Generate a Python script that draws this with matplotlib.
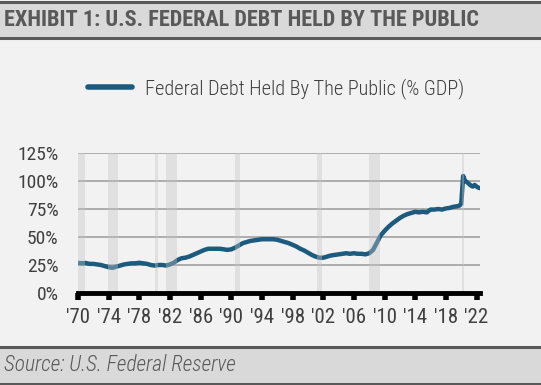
import matplotlib.pyplot as plt
import matplotlib.patches as mpatches
import numpy as np

# Federal debt held by the public, % of GDP
dates = [1970.0, 1970.5, 1971.0, 1971.5, 1972.0, 1972.5, 1973.0, 1973.5, 1974.0, 1974.5,
         1975.0, 1975.5, 1976.0, 1976.5, 1977.0, 1977.5, 1978.0, 1978.5, 1979.0, 1979.5,
         1980.0, 1980.5, 1981.0, 1981.5, 1982.0, 1982.5, 1983.0, 1983.5, 1984.0, 1984.5,
         1985.0, 1985.5, 1986.0, 1986.5, 1987.0, 1987.5, 1988.0, 1988.5, 1989.0, 1989.5,
         1990.0, 1990.5, 1991.0, 1991.5, 1992.0, 1992.5, 1993.0, 1993.5, 1994.0, 1994.5,
         1995.0, 1995.5, 1996.0, 1996.5, 1997.0, 1997.5, 1998.0, 1998.5, 1999.0, 1999.5,
         2000.0, 2000.5, 2001.0, 2001.5, 2002.0, 2002.5, 2003.0, 2003.5, 2004.0, 2004.5,
         2005.0, 2005.5, 2006.0, 2006.5, 2007.0, 2007.5, 2008.0, 2008.5, 2009.0, 2009.5,
         2010.0, 2010.5, 2011.0, 2011.5, 2012.0, 2012.5, 2013.0, 2013.5, 2014.0, 2014.5,
         2015.0, 2015.5, 2016.0, 2016.5, 2017.0, 2017.5, 2018.0, 2018.5, 2019.0, 2019.5,
         2019.75, 2020.0, 2020.25, 2020.5, 2020.75, 2021.0, 2021.25, 2021.5, 2021.75, 2022.0,
         2022.25, 2022.5]
debt = [27, 26.5, 26.8, 26, 26, 25.5, 25, 24, 23, 22.5,
        23.5, 24.5, 25.5, 26, 26.5, 26.5, 27, 26.5, 26, 25,
        24.5, 25, 25, 24.5, 25.5, 27, 29.5, 31, 31.5, 32.5,
        34, 35.5, 37, 38.5, 39.5, 39.5, 39.5, 39.5, 39, 38.5,
        39, 40.5, 42.5, 44.5, 45.5, 46.5, 47, 47.5, 48, 48,
        48, 48, 47.5, 46.5, 45.5, 44.5, 43, 41.5, 39.5, 38,
        36, 34, 32.5, 31.5, 31.5, 32.5, 33.5, 34, 34.5, 35,
        35.5, 35, 35.5, 35, 35, 34.5, 35.5, 38.5, 45, 51.5,
        55.5, 59, 62, 64.5, 67, 69, 70.5, 71.5, 72.5, 72,
        72.5, 72, 74.5, 74.5, 75, 74.5, 75.5, 76, 77, 77.5,
        78, 79.5, 104.5, 100, 99, 97.5, 96, 95, 96.5, 95,
        94, 93.5]

# NBER recessions (start, end)
recessions = [(1969.92, 1970.87), (1973.87, 1975.2), (1980.0, 1980.5), (1981.5, 1982.87),
              (1990.5, 1991.2), (2001.2, 2001.87), (2007.92, 2009.45), (2020.1, 2020.3)]

yticks = [0, 25, 50, 75, 100, 125]
xticks = list(range(1970, 2023, 4))
xlabels = ["'%02d" % (y % 100) for y in xticks]

narrow = ['Roboto Condensed', 'DejaVu Sans']
bg = '#f2f2f2'
line_col = '#1d5b7e'
txt = '#404040'

fig = plt.figure(figsize=(5.41, 3.85), dpi=100, facecolor=bg)

def px(y):
    return 1 - y / 385

#Header and footer bands
fig.patches.append(mpatches.Rectangle((0, px(37)), 1, px(2) - px(37), transform=fig.transFigure,
                                      facecolor='#d9d9d9', edgecolor='none'))
fig.patches.append(mpatches.Rectangle((0, px(384)), 1, px(347) - px(384), transform=fig.transFigure,
                                      facecolor='#d9d9d9', edgecolor='none'))
for y, lw in [(2, 2.2), (37.5, 2.2), (346.5, 2.2), (383.5, 2.2)]:
    fig.add_artist(plt.Line2D([0, 1], [px(y), px(y)], transform=fig.transFigure,
                              color='#595959', lw=lw))

fig.text(0.008, px(20), "EXHIBIT 1: U.S. FEDERAL DEBT HELD BY THE PUBLIC", family=narrow,
         fontweight='bold', fontsize=16, color='#595959', va='center', ha='left')
fig.text(0.008, px(365), "Source: U.S. Federal Reserve", family=narrow, style='italic',
         fontsize=15.5, fontweight='light', color='#595959', va='center', ha='left')

#Main chart
ax = fig.add_axes([78 / 541, px(293), (480 - 78) / 541, px(153) - px(293)])
ax.set_facecolor(bg)
ax.plot(dates, debt, color=line_col, lw=3.2, zorder=3, solid_capstyle='butt',
        label='Federal Debt Held By The Public (% GDP)')
for s, e in recessions:
    ax.axvspan(s, e, color='#c4c4c4', alpha=0.38, lw=0, zorder=4)
for y in yticks[1:]:
    ax.axhline(y, color='#9a9a9a', lw=1.1, zorder=1)

ax.set_xlim(1970, 2022.45)
ax.set_ylim(0, 125)
for side in ['top', 'right', 'left']:
    ax.spines[side].set_visible(False)
ax.spines['bottom'].set_linewidth(3.5)
ax.spines['bottom'].set_color('black')
ax.spines['bottom'].set_zorder(5)

ax.set_yticks(yticks)
ax.set_yticklabels(["%d%%" % y for y in yticks], family=narrow, fontsize=14, color=txt)
ax.tick_params(axis='y', length=0, pad=14)
ax.set_xticks(xticks)
ax.set_xticklabels(xlabels, family=narrow, fontsize=15, color=txt)
ax.tick_params(axis='x', length=5, width=4, color='black', pad=6)

leg = ax.legend(loc='center left', bbox_to_anchor=(-0.021, 1.46), frameon=False,
                prop={'family': narrow, 'size': 14.6, 'weight': 'light'},
                handlelength=2.2, handletextpad=0.6)
for t in leg.get_texts():
    t.set_color(txt)
for h in leg.get_lines():
    h.set_linewidth(4)
    h.set_solid_capstyle('round')

fig.savefig('out.png', dpi=100, facecolor=bg)
